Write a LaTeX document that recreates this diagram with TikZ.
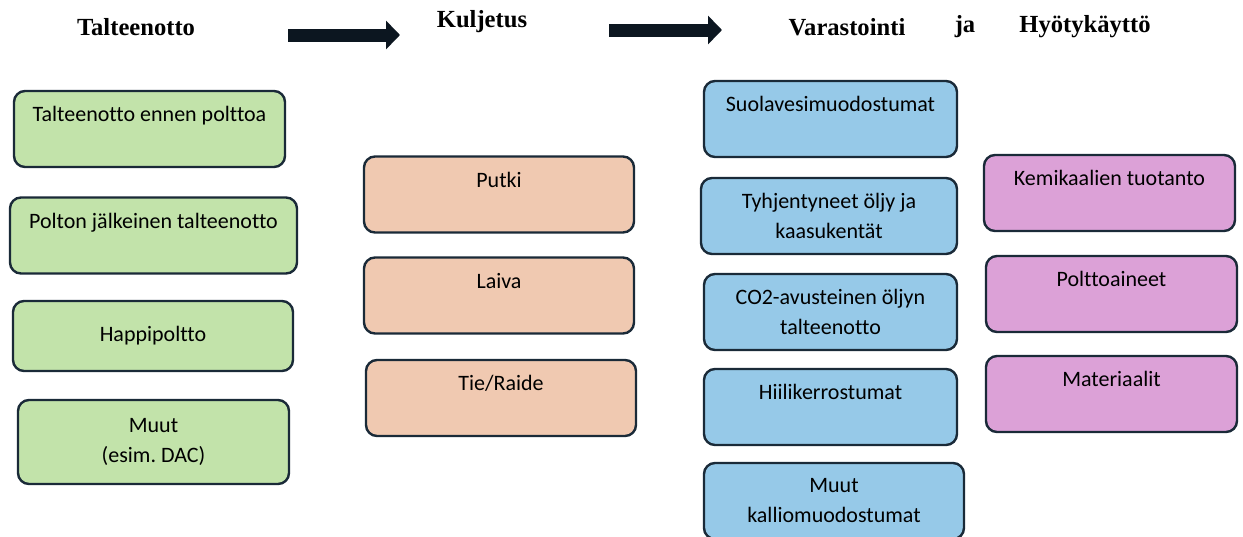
\documentclass[tikz,border=0pt]{standalone}
\usepackage{fontspec}
\setmainfont{Liberation Serif}
\setsansfont{Carlito}[Ligatures=NoCommon]
\usetikzlibrary{arrows.meta}
\definecolor{boxline}{HTML}{1A2A38}
\definecolor{capturefill}{HTML}{C2E3AA}
\definecolor{transportfill}{HTML}{F0C9B1}
\definecolor{storagefill}{HTML}{96C9E8}
\definecolor{usefill}{HTML}{DCA1D7}
\definecolor{arrowink}{HTML}{0C1620}
\tikzset{
  base/.style={
    rectangle,rounded corners=11pt,draw=boxline,line width=2.4pt,
    align=center,inner sep=0pt,minimum height=76pt,
    font=\sffamily\fontsize{22}{30}\selectfont
  },
  capture/.style={base,fill=capturefill},
  transport/.style={base,fill=transportfill,minimum width=270pt},
  storage/.style={base,fill=storagefill,minimum width=253pt},
  usage/.style={base,fill=usefill,minimum width=251pt},
  header/.style={font=\bfseries\fontsize{24.6}{28}\selectfont,inner sep=0pt},
  flowarrow/.style={
    draw=arrowink,line width=13pt,
    -{Triangle[length=14pt,width=28pt]}
  }
}
\begin{document}
\begin{tikzpicture}[x=1pt,y=-1pt]
    \useasboundingbox (0,0) rectangle (1243,536);

    % column headers
    \node[header] (hcapture) at (136,27) {Talteenotto};
    \node[header] (htransport) at (482,22) {Kuljetus};
    \node[header] (hstorage) at (847,27) {Varastointi};
    \node[header] (hand) at (965,27) {ja};
    \node[header] (husage) at (1085,27) {Hyötykäyttö};

    \coordinate (arrAstart) at (288,35);
    \coordinate (arrAend) at (400,35);
    \coordinate (arrBstart) at (609,30);
    \coordinate (arrBend) at (722,30);
    \draw[flowarrow] (arrAstart) -- (arrAend);
    \draw[flowarrow] (arrBstart) -- (arrBend);

    % capture
    \node[capture,minimum width=271pt] (precomb) at (149.5,129)
      {Talteenotto ennen polttoa\\~};
    \node[capture,minimum width=287pt] (postcomb) at (153.5,235.5)
      {Polton jälkeinen talteenotto\\~};
    \node[capture,minimum width=280pt,minimum height=70pt] (oxyfuel)
      at (153,336) {Happipoltto};
    \node[capture,minimum width=271pt,minimum height=84pt] (othercap)
      at (153.5,442) {Muut\\(esim.\ DAC)};

    % transport
    \node[transport] (pipe) at (499,194.5) {Putki\\~};
    \node[transport] (ship) at (499,295.5) {Laiva\\~};
    \node[transport] (road) at (501,398) {Tie/Raide\\~};

    % storage
    \node[storage] (saline) at (830.5,119) {Suolavesimuodostumat\\~};
    \node[storage,minimum width=256pt] (depleted) at (829,216)
      {Tyhjentyneet öljy ja\\kaasukentät};
    \node[storage] (eor) at (830.5,312) {CO2-avusteinen öljyn\\talteenotto};
    \node[storage] (coal) at (830.5,407) {Hiilikerrostumat\\~};
    \node[storage,minimum width=260pt] (otherrock) at (834,501)
      {Muut\\kalliomuodostumat};

    % utilisation
    \node[usage] (chem) at (1109.5,193) {Kemikaalien tuotanto\\~};
    \node[usage] (fuels) at (1111.5,294) {Polttoaineet\\~};
    \node[usage] (materials) at (1111.5,394) {Materiaalit\\~};
\end{tikzpicture}
\end{document}
